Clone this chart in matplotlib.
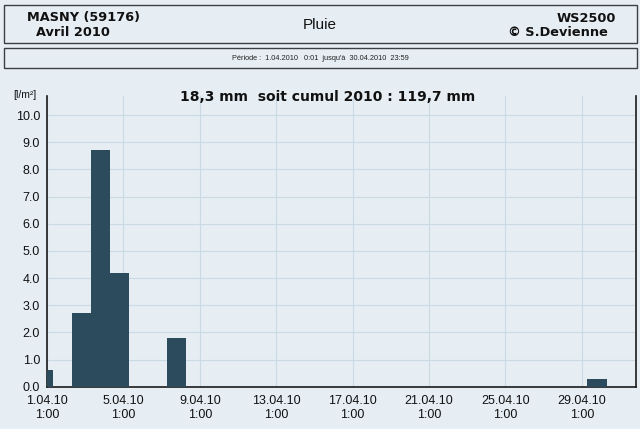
import matplotlib
matplotlib.use("Agg")
import matplotlib.pyplot as plt
from matplotlib.patches import Rectangle

# daily rain, April 2010 (day of month -> l/m2)
rain_days = [1, 3, 4, 5, 8, 30]
rain_mm = [0.6, 2.7, 8.7, 4.2, 1.8, 0.3]

tick_days = [1, 5, 9, 13, 17, 21, 25, 29]
tick_labels = [f"{d}.04.10\n1:00" for d in tick_days]
y_ticks = [0, 1, 2, 3, 4, 5, 6, 7, 8, 9, 10]

bg = "#e6eef4"
bar_color = "#2c4b5d"
grid_color = "#cbd9e2"

fig = plt.figure(figsize=(6.4, 4.29), dpi=100, facecolor=bg)

# header boxes
fig.patches.append(Rectangle((4 / 640, 1 - 43 / 429), 633 / 640, 38 / 429,
                             transform=fig.transFigure, fill=False,
                             edgecolor="#3a3f44", lw=1.0))
fig.patches.append(Rectangle((4 / 640, 1 - 68 / 429), 633 / 640, 20 / 429,
                             transform=fig.transFigure, fill=False,
                             edgecolor="#3a3f44", lw=1.0))

hfont = ["DejaVu Sans"]
fig.text(27 / 640, 1 - 18 / 429, "MASNY (59176)", fontsize=9.3, weight="bold",
         family=hfont, va="center", ha="left", color="#111")
fig.text(36 / 640, 1 - 33 / 429, "Avril 2010", fontsize=9.3, weight="bold",
         family=hfont, va="center", ha="left", color="#111")
fig.text(320 / 640, 1 - 25 / 429, "Pluie", fontsize=11, family=["Liberation Sans"],
         va="center", ha="center", color="#111")
fig.text(616 / 640, 1 - 18 / 429, "WS2500", fontsize=9.3, weight="bold",
         family=hfont, va="center", ha="right", color="#111")
fig.text(608 / 640, 1 - 33 / 429, "© S.Devienne", fontsize=9.3, weight="bold",
         family=hfont, va="center", ha="right", color="#111")
fig.text(320 / 640, 1 - 58 / 429,
         "Période :  1.04.2010   0:01  jusqu'à  30.04.2010  23:59",
         fontsize=5.3, family=["Liberation Sans"], va="center", ha="center", color="#222")

ax = fig.add_axes([47 / 640, 1 - 386.7 / 429, 589 / 640, 290.7 / 429])
ax.set_facecolor(bg)

x = [d - 1.7 for d in rain_days]
ax.bar(x, rain_mm, width=1.0, align="edge", color=bar_color, zorder=3)

ax.set_xlim(0, 30.84)
ax.set_ylim(0, 10.7)
ax.set_xticks([d - 1 for d in tick_days])
ax.set_xticklabels(tick_labels, fontsize=9, family=["Liberation Sans"])
ax.set_yticks(y_ticks)
ax.set_yticklabels([f"{v:.1f}" for v in y_ticks], fontsize=9, family=["Liberation Sans"])
ax.tick_params(length=0, colors="#111")
ax.tick_params(axis="x", pad=6)
ax.tick_params(axis="y", pad=5)
ax.grid(True, color=grid_color, lw=0.8, zorder=0)

ax.spines["top"].set_visible(False)
for s in ("left", "bottom", "right"):
    ax.spines[s].set_color("#1a1a1a")
    ax.spines[s].set_linewidth(1.2)

fig.text(13 / 640, 1 - 95 / 429, "[l/m²]", fontsize=7.5, family=["Liberation Sans"],
         va="center", ha="left", color="#111")
fig.text(328 / 640, 1 - 97 / 429, "18,3 mm  soit cumul 2010 : 119,7 mm",
         fontsize=10, weight="bold", family=hfont, va="center", ha="center", color="#111")

fig.savefig("out.png", dpi=100, facecolor=bg)
